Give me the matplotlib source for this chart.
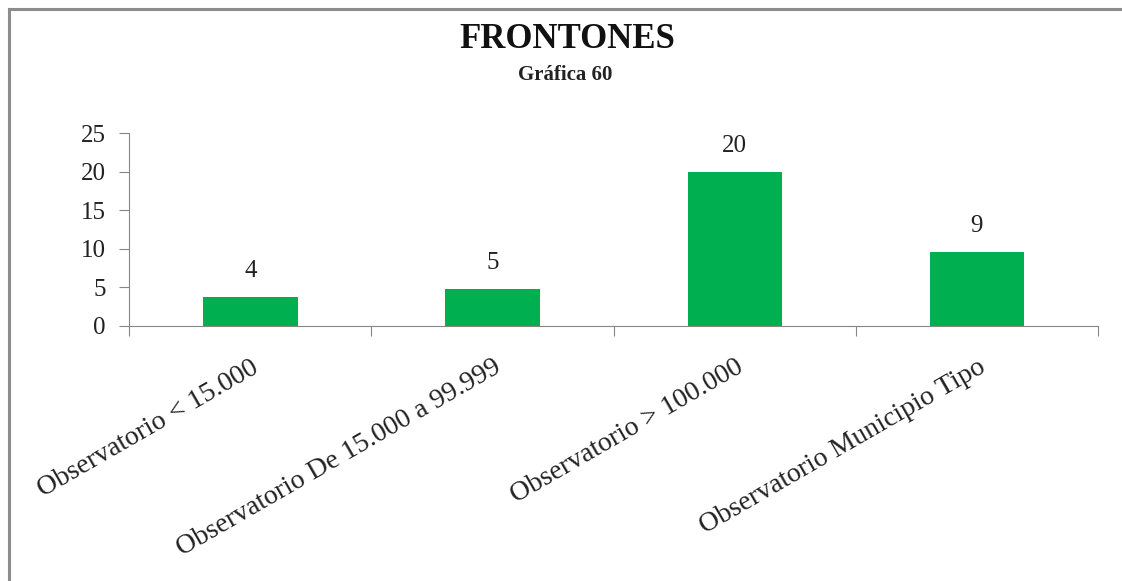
import matplotlib
matplotlib.use("Agg")
import matplotlib.pyplot as plt
from matplotlib.lines import Line2D

categories = ["Observatorio < 15.000", "Observatorio De 15.000 a 99.999",
              "Observatorio > 100.000", "Observatorio Municipio Tipo"]
values = [3.7, 4.75, 20.0, 9.55]
value_labels = ["4", "5", "20", "9"]
yticks = [0, 5, 10, 15, 20, 25]

plt.rcParams['font.family'] = ['Liberation Serif', 'DejaVu Serif']

fig = plt.figure(figsize=(11.22, 5.81), dpi=100)
ax = fig.add_axes([129.3 / 1122, (581 - 325.7) / 581, 968.7 / 1122, 192.4 / 581])

x = list(range(len(categories)))
ax.bar(x, values, width=0.39, color="#00B050", zorder=2)
for xi, v, lab in zip(x, values, value_labels):
    ax.annotate(lab, (xi, v), xytext=(0, 11), textcoords="offset points",
                ha="center", va="bottom", fontsize=18, color="#222222")

ax.set_xlim(-0.5, len(categories) - 0.5)
ax.set_ylim(0, 25)
ax.set_yticks(yticks)
ax.set_yticklabels([str(t) for t in yticks], fontsize=18, color="#222222")

ax.set_xticks([i - 0.5 for i in range(len(categories) + 1)], minor=False)
ax.set_xticklabels([])
ax.set_xticks(x, minor=True)
ax.set_xticklabels(categories, minor=True, rotation=30, ha="right",
                   rotation_mode="anchor", fontsize=20, color="#222222")
ax.tick_params(axis="x", which="minor", length=0, pad=21)
ax.tick_params(axis="x", which="major", length=7, color="#868686", direction="out")
ax.tick_params(axis="y", length=7, color="#868686", direction="out", pad=10)
for t in ax.get_xticklabels(minor=True):
    t.set_va("top")

for s in ["top", "right"]:
    ax.spines[s].set_visible(False)
ax.spines["left"].set_color("#868686")
ax.spines["bottom"].set_color("#868686")

fig.text(567 / 1122, 1 - 39 / 581, "FRONTONES", ha="center", va="center",
         fontsize=25, fontweight="bold", color="#111111")
fig.text(565 / 1122, 1 - 75 / 581, "Gráfica 60", ha="center", va="center",
         fontsize=15, fontweight="bold", color="#222222")

fig.add_artist(Line2D([8.5 / 1122, 8.5 / 1122], [0, 1 - 8.5 / 581],
                      transform=fig.transFigure, color="#8c8c8c", lw=2.2))
fig.add_artist(Line2D([8.5 / 1122, 1], [1 - 8.5 / 581, 1 - 8.5 / 581],
                      transform=fig.transFigure, color="#8c8c8c", lw=2.2))

fig.savefig("out.png", dpi=100)
